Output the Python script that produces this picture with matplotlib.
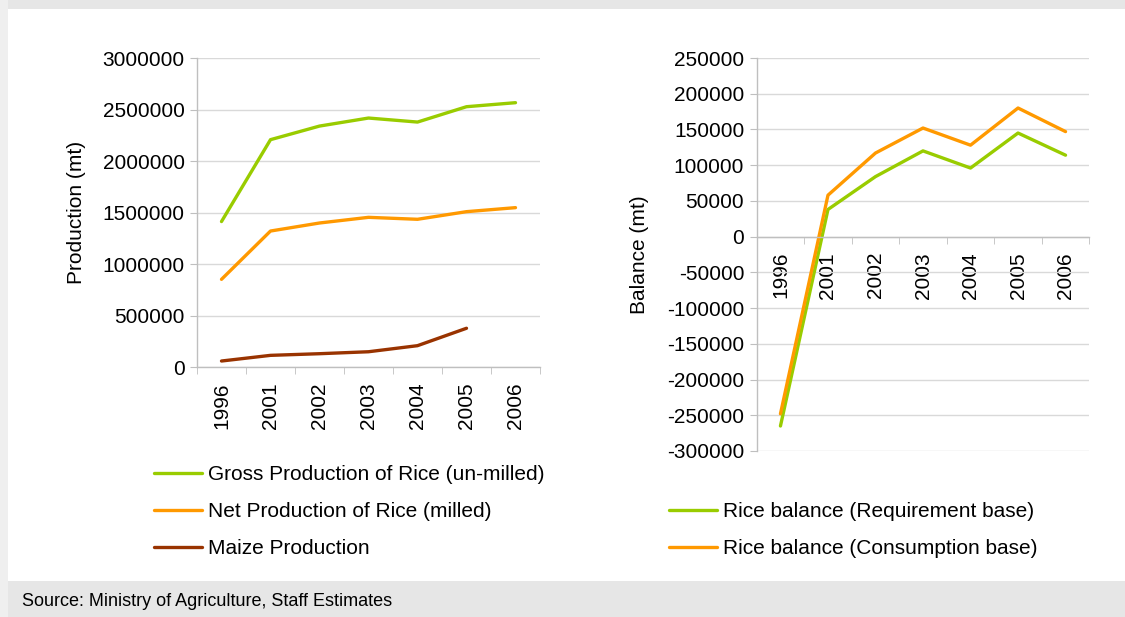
import matplotlib
matplotlib.use("Agg")
import matplotlib.pyplot as plt
from matplotlib.patches import Rectangle
from matplotlib.ticker import FixedLocator, FuncFormatter

plt.rcParams['font.family'] = ['Liberation Sans', 'DejaVu Sans']

years = ['1996', '2001', '2002', '2003', '2004', '2005', '2006']

gross_rice = [1415000, 2210000, 2342000, 2420000, 2381000, 2530000, 2569000]
net_rice = [854000, 1323000, 1401000, 1456000, 1437000, 1511000, 1550000]
maize = [61000, 116000, 132000, 151000, 210000, 379000, None]

balance_requirement = [-265000, 38000, 84000, 120000, 96000, 145000, 114000]
balance_consumption = [-248000, 58000, 117000, 152000, 128000, 180000, 147000]

GREEN = '#99cc00'
ORANGE = '#ff9900'
BROWN = '#993300'
GRID = '#d9d9d9'
AXIS = '#bfbfbf'
BAND = '#e6e6e6'
FS = 15

W, H = 1125, 617
fig = plt.figure(figsize=(W / 100, H / 100), dpi=100)
fig.patch.set_facecolor('white')


def px(x0, y0, x1, y1):
    """Figure-fraction rectangle from pixel corners (top-left origin)."""
    return [x0 / W, 1 - y1 / H, (x1 - x0) / W, (y1 - y0) / H]


# frame bands
fig.patches.append(Rectangle((0, 1 - 9 / H), 1, 9 / H, transform=fig.transFigure,
                             facecolor=BAND, edgecolor='none', zorder=0))
fig.patches.append(Rectangle((0, 0), 1, 36 / H, transform=fig.transFigure,
                             facecolor=BAND, edgecolor='none', zorder=0))
fig.patches.append(Rectangle((0, 0), 8 / W, 1, transform=fig.transFigure,
                             facecolor='#efefef', edgecolor='none', zorder=0))

x = list(range(len(years)))


def style_axes(ax):
    ax.set_xlim(-0.5, len(years) - 0.5)
    for s in ('top', 'right'):
        ax.spines[s].set_visible(False)
    for s in ('left', 'bottom'):
        ax.spines[s].set_color(AXIS)
        ax.spines[s].set_linewidth(1)
    ax.set_xticks(x)
    ax.set_xticklabels(years, rotation=90, fontsize=FS)
    ax.xaxis.set_minor_locator(FixedLocator([i - 0.5 for i in range(len(years) + 1)]))
    ax.tick_params(axis='x', which='major', length=0, pad=11)
    ax.tick_params(axis='x', which='minor', length=5, color=AXIS, direction='out')
    ax.tick_params(axis='y', which='major', length=5, color=AXIS, labelsize=FS, pad=4)
    ax.yaxis.grid(True, color=GRID, linewidth=1)
    ax.set_axisbelow(True)
    ax.yaxis.set_major_formatter(FuncFormatter(lambda v, p: f'{int(v)}'))


legend_kw = dict(bbox_transform=fig.transFigure, loc='upper left', frameon=False,
                 fontsize=FS, handlelength=2.3, handletextpad=0.3,
                 labelspacing=0.87, borderpad=0, borderaxespad=0)

# production panel
ax1 = fig.add_axes(px(197, 58.3, 540, 367.3))
style_axes(ax1)
ax1.set_ylim(0, 3000000)
ax1.set_yticks(range(0, 3000001, 500000))
l1, = ax1.plot(x, gross_rice, color=GREEN, lw=2.4, solid_capstyle='round',
               label='Gross Production of Rice (un-milled)')
l2, = ax1.plot(x, net_rice, color=ORANGE, lw=2.4, solid_capstyle='round',
               label='Net Production of Rice (milled)')
mx = [i for i, v in zip(x, maize) if v is not None]
my = [v for v in maize if v is not None]
l3, = ax1.plot(mx, my, color=BROWN, lw=2.4, solid_capstyle='round',
               label='Maize Production')
ax1.set_ylabel('Production (mt)', fontsize=FS, labelpad=12)

ax1.legend(handles=[l1, l2, l3], bbox_to_anchor=(154 / W, 1 - 465 / H), **legend_kw)

# balance panel: category axis crosses at zero
ax2 = fig.add_axes(px(756.7, 58, 1089.3, 451))
ax2.spines['bottom'].set_position(('data', 0))
style_axes(ax2)
ax2.set_ylim(-300000, 250000)
ax2.set_yticks(range(-300000, 250001, 50000))
r1, = ax2.plot(x, balance_requirement, color=GREEN, lw=2.4, solid_capstyle='round',
               label='Rice balance (Requirement base)')
r2, = ax2.plot(x, balance_consumption, color=ORANGE, lw=2.4, solid_capstyle='round',
               label='Rice balance (Consumption base)')
ax2.set_ylabel('Balance (mt)', fontsize=FS, labelpad=13)

ax2.legend(handles=[r1, r2], bbox_to_anchor=(669 / W, 1 - 502 / H), **legend_kw)

fig.text(22 / W, 1 - 602 / H, 'Source: Ministry of Agriculture, Staff Estimates',
         fontsize=13, va='center', ha='left')

fig.savefig('out.png', dpi=100)
